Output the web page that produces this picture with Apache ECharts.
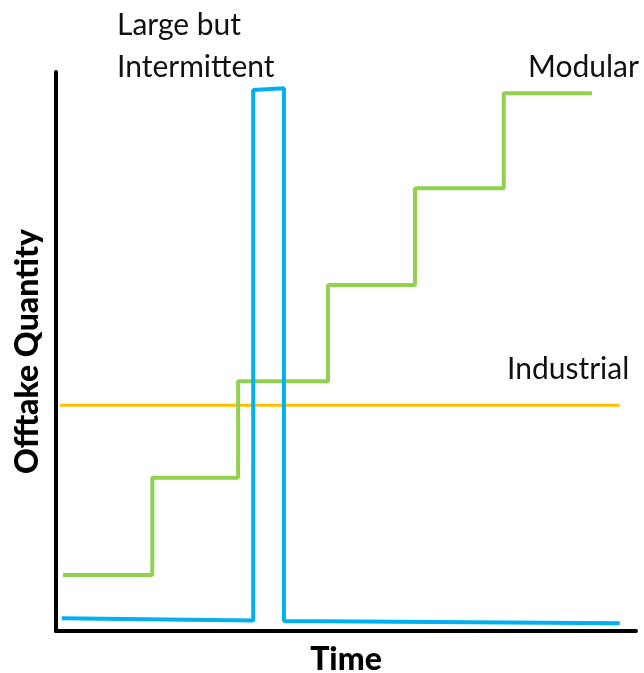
<!DOCTYPE html>
<html><head><meta charset="utf-8">
<script src="https://cdn.jsdelivr.net/npm/echarts@6/dist/echarts.min.js"></script>
<style>html,body{margin:0;padding:0;background:#fff}#c{width:644px;height:673px}</style>
</head><body><div id="c"></div>
<script>
// Data (x: time 0-100, y: offtake quantity 0-100)
const largeX = [1, 34, 34, 39.3, 39.3, 97.2];
const largeY = [2.3, 1.9, 96.8, 97.1, 1.8, 1.4];
const modularX = [1.2, 16.6, 31.4, 46.9, 61.9, 77.2, 92.4];
const modularY = [10, 27.4, 44.7, 61.9, 79.2, 96.2, 96.2];
const industrialX = [0.7, 97.2];
const industrialY = [40.4, 40.4];
const labels = ['Large but\nIntermittent', 'Modular', 'Industrial'];

const zip = (a, b) => a.map((v, i) => [v, b[i]]);
const chart = echarts.init(document.getElementById('c'));
const FONT = 'Lato';
chart.setOption({
  animation: false,
  grid: {left: 56, right: 8, top: 72, bottom: 42, containLabel: false, outerBoundsMode: 'none'},
  xAxis: {type: 'value', min: 0, max: 100,
    axisLine: {show: true, lineStyle: {color: '#000', width: 4}},
    axisTick: {show: false}, axisLabel: {show: false}, splitLine: {show: false},
    name: 'Time', nameLocation: 'middle', nameGap: 13,
    nameTextStyle: {fontFamily: FONT, fontWeight: 900, fontSize: 32, color: '#000'}},
  yAxis: {type: 'value', min: 0, max: 100,
    axisLine: {show: true, lineStyle: {color: '#000', width: 4}},
    axisTick: {show: false}, axisLabel: {show: false}, splitLine: {show: false},
    name: 'Offtake Quantity', nameLocation: 'middle', nameGap: 12,
    nameTextStyle: {fontFamily: FONT, fontWeight: 900, fontSize: 32, color: '#000'}},
  series: [
    {name: labels[2], type: 'line', data: zip(industrialX, industrialY), symbol: 'none',
     lineStyle: {color: '#ffc000', width: 3}},
    {name: labels[1], type: 'line', step: 'end', data: zip(modularX, modularY), symbol: 'none',
     lineStyle: {color: '#92d050', width: 4}},
    {name: labels[0], type: 'line', data: zip(largeX, largeY), symbol: 'none',
     lineStyle: {color: '#00b0f0', width: 4}}
  ],
  graphic: [
    {type: 'text', left: 117, top: 4, style: {text: labels[0], fontFamily: FONT, fontSize: 30, lineHeight: 42, fill: '#111'}},
    {type: 'text', left: 528, top: 52, style: {text: labels[1], fontFamily: FONT, fontSize: 30, fill: '#111'}},
    {type: 'text', left: 507, top: 354, style: {text: labels[2], fontFamily: FONT, fontSize: 30, fill: '#111'}}
  ]
});
</script></body></html>
